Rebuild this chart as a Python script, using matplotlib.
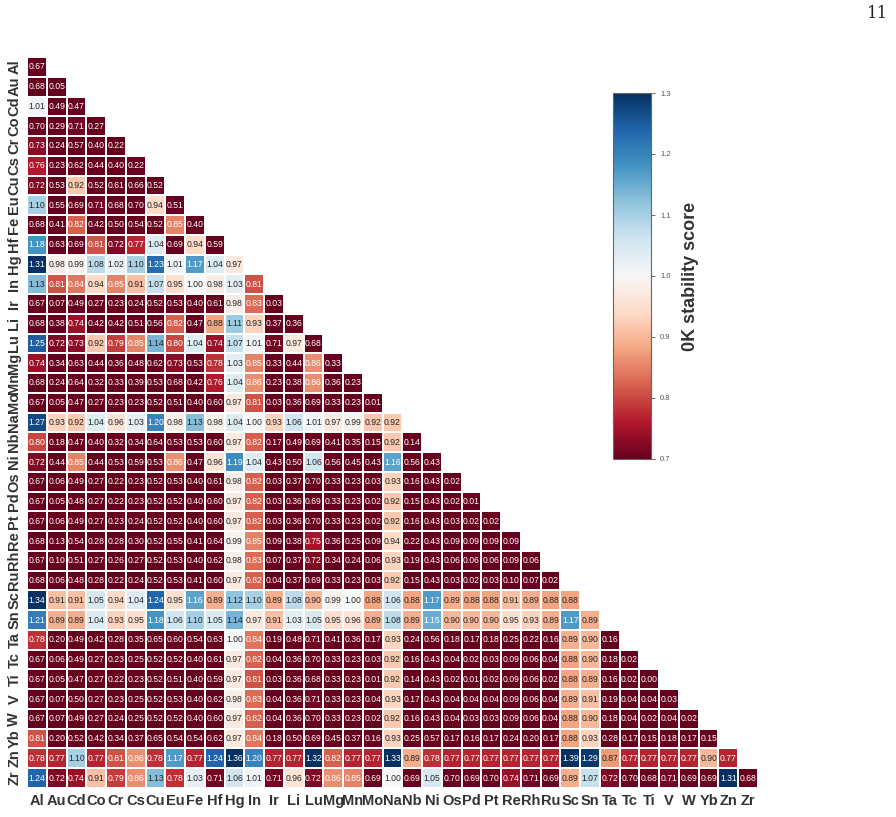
import numpy as np
import matplotlib
matplotlib.use("Agg")
import matplotlib.pyplot as plt
import seaborn as sns

elements = ["Al", "Au", "Cd", "Co", "Cr", "Cs", "Cu", "Eu", "Fe", "Hf", "Hg", "In",
            "Ir", "Li", "Lu", "Mg", "Mn", "Mo", "Na", "Nb", "Ni", "Os", "Pd", "Pt",
            "Re", "Rh", "Ru", "Sc", "Sn", "Ta", "Tc", "Ti", "V", "W", "Yb", "Zn", "Zr"]

# lower-triangle rows (row i has i+1 values, columns Al..element i)
lower_rows = [
    [0.67],
    [0.68, 0.05],
    [1.01, 0.49, 0.47],
    [0.70, 0.29, 0.71, 0.27],
    [0.73, 0.24, 0.57, 0.40, 0.22],
    [0.76, 0.23, 0.62, 0.44, 0.40, 0.22],
    [0.72, 0.53, 0.92, 0.52, 0.61, 0.66, 0.52],
    [1.10, 0.55, 0.69, 0.71, 0.68, 0.70, 0.94, 0.51],
    [0.68, 0.41, 0.82, 0.42, 0.50, 0.54, 0.52, 0.85, 0.40],
    [1.18, 0.63, 0.69, 0.81, 0.72, 0.77, 1.04, 0.69, 0.94, 0.59],
    [1.31, 0.98, 0.99, 1.08, 1.02, 1.10, 1.23, 1.01, 1.17, 1.04, 0.97],
    [1.13, 0.81, 0.84, 0.94, 0.85, 0.91, 1.07, 0.95, 1.00, 0.98, 1.03, 0.81],
    [0.67, 0.07, 0.49, 0.27, 0.23, 0.24, 0.52, 0.53, 0.40, 0.61, 0.98, 0.83, 0.03],
    [0.68, 0.38, 0.74, 0.42, 0.42, 0.51, 0.56, 0.82, 0.47, 0.88, 1.11, 0.93, 0.37, 0.36],
    [1.25, 0.72, 0.73, 0.92, 0.79, 0.85, 1.14, 0.80, 1.04, 0.74, 1.07, 1.01, 0.71, 0.97, 0.68],
    [0.74, 0.34, 0.63, 0.44, 0.36, 0.48, 0.62, 0.73, 0.53, 0.78, 1.03, 0.85, 0.33, 0.44, 0.86, 0.33],
    [0.68, 0.24, 0.64, 0.32, 0.33, 0.39, 0.53, 0.68, 0.42, 0.76, 1.04, 0.86, 0.23, 0.38, 0.86, 0.36, 0.23],
    [0.67, 0.05, 0.47, 0.27, 0.23, 0.23, 0.52, 0.51, 0.40, 0.60, 0.97, 0.81, 0.03, 0.36, 0.69, 0.33, 0.23, 0.01],
    [1.27, 0.93, 0.92, 1.04, 0.96, 1.03, 1.20, 0.98, 1.13, 0.98, 1.04, 1.00, 0.93, 1.06, 1.01, 0.97, 0.99, 0.92, 0.92],
    [0.80, 0.18, 0.47, 0.40, 0.32, 0.34, 0.64, 0.53, 0.53, 0.60, 0.97, 0.82, 0.17, 0.49, 0.69, 0.41, 0.35, 0.15, 0.92, 0.14],
    [0.72, 0.44, 0.85, 0.44, 0.53, 0.59, 0.53, 0.86, 0.47, 0.96, 1.19, 1.04, 0.43, 0.50, 1.06, 0.56, 0.45, 0.43, 1.16, 0.56, 0.43],
    [0.67, 0.06, 0.49, 0.27, 0.22, 0.23, 0.52, 0.53, 0.40, 0.61, 0.98, 0.82, 0.03, 0.37, 0.70, 0.33, 0.23, 0.03, 0.93, 0.16, 0.43, 0.02],
    [0.67, 0.05, 0.48, 0.27, 0.22, 0.23, 0.52, 0.52, 0.40, 0.60, 0.97, 0.82, 0.03, 0.36, 0.69, 0.33, 0.23, 0.02, 0.92, 0.15, 0.43, 0.02, 0.01],
    [0.67, 0.06, 0.49, 0.27, 0.23, 0.24, 0.52, 0.52, 0.40, 0.60, 0.97, 0.82, 0.03, 0.36, 0.70, 0.33, 0.23, 0.02, 0.92, 0.16, 0.43, 0.03, 0.02, 0.02],
    [0.68, 0.13, 0.54, 0.28, 0.28, 0.30, 0.52, 0.55, 0.41, 0.64, 0.99, 0.85, 0.09, 0.38, 0.75, 0.36, 0.25, 0.09, 0.94, 0.22, 0.43, 0.09, 0.09, 0.09, 0.09],
    [0.67, 0.10, 0.51, 0.27, 0.26, 0.27, 0.52, 0.53, 0.40, 0.62, 0.98, 0.83, 0.07, 0.37, 0.72, 0.34, 0.24, 0.06, 0.93, 0.19, 0.43, 0.06, 0.06, 0.06, 0.09, 0.06],
    [0.68, 0.06, 0.48, 0.28, 0.22, 0.24, 0.52, 0.53, 0.41, 0.60, 0.97, 0.82, 0.04, 0.37, 0.69, 0.33, 0.23, 0.03, 0.92, 0.15, 0.43, 0.03, 0.02, 0.03, 0.10, 0.07, 0.02],
    [1.34, 0.91, 0.91, 1.05, 0.94, 1.04, 1.24, 0.95, 1.16, 0.89, 1.12, 1.10, 0.89, 1.08, 0.90, 0.99, 1.00, 0.88, 1.06, 0.88, 1.17, 0.89, 0.88, 0.88, 0.91, 0.89, 0.88, 0.88],
    [1.21, 0.89, 0.89, 1.04, 0.93, 0.95, 1.18, 1.06, 1.10, 1.05, 1.14, 0.97, 0.91, 1.03, 1.05, 0.95, 0.96, 0.89, 1.08, 0.89, 1.15, 0.90, 0.90, 0.90, 0.95, 0.93, 0.89, 1.17, 0.89],
    [0.78, 0.20, 0.49, 0.42, 0.28, 0.35, 0.65, 0.60, 0.54, 0.63, 1.00, 0.84, 0.19, 0.48, 0.71, 0.41, 0.36, 0.17, 0.93, 0.24, 0.56, 0.18, 0.17, 0.18, 0.25, 0.22, 0.16, 0.89, 0.90, 0.16],
    [0.67, 0.06, 0.49, 0.27, 0.23, 0.25, 0.52, 0.52, 0.40, 0.61, 0.97, 0.82, 0.04, 0.36, 0.70, 0.33, 0.23, 0.03, 0.92, 0.16, 0.43, 0.04, 0.02, 0.03, 0.09, 0.06, 0.04, 0.88, 0.90, 0.18, 0.02],
    [0.67, 0.05, 0.47, 0.27, 0.22, 0.23, 0.52, 0.51, 0.40, 0.59, 0.97, 0.81, 0.03, 0.36, 0.68, 0.33, 0.23, 0.01, 0.92, 0.14, 0.43, 0.02, 0.01, 0.02, 0.09, 0.06, 0.02, 0.88, 0.89, 0.16, 0.02, 0.00],
    [0.67, 0.07, 0.50, 0.27, 0.23, 0.25, 0.52, 0.53, 0.40, 0.62, 0.98, 0.83, 0.04, 0.36, 0.71, 0.33, 0.23, 0.04, 0.93, 0.17, 0.43, 0.04, 0.04, 0.04, 0.09, 0.06, 0.04, 0.89, 0.91, 0.19, 0.04, 0.04, 0.03],
    [0.67, 0.07, 0.49, 0.27, 0.24, 0.25, 0.52, 0.52, 0.40, 0.60, 0.97, 0.82, 0.04, 0.36, 0.70, 0.33, 0.23, 0.02, 0.92, 0.16, 0.43, 0.04, 0.03, 0.03, 0.09, 0.06, 0.04, 0.88, 0.90, 0.18, 0.04, 0.02, 0.04, 0.02],
    [0.81, 0.20, 0.52, 0.42, 0.34, 0.37, 0.65, 0.54, 0.54, 0.62, 0.97, 0.84, 0.18, 0.50, 0.69, 0.45, 0.37, 0.16, 0.93, 0.25, 0.57, 0.17, 0.16, 0.17, 0.24, 0.20, 0.17, 0.88, 0.93, 0.28, 0.17, 0.15, 0.18, 0.17, 0.15],
    [0.78, 0.77, 1.10, 0.77, 0.81, 0.86, 0.78, 1.17, 0.77, 1.24, 1.36, 1.20, 0.77, 0.77, 1.32, 0.82, 0.77, 0.77, 1.33, 0.89, 0.78, 0.77, 0.77, 0.77, 0.77, 0.77, 0.77, 1.39, 1.29, 0.87, 0.77, 0.77, 0.77, 0.77, 0.90, 0.77],
    [1.24, 0.72, 0.74, 0.91, 0.79, 0.86, 1.13, 0.78, 1.03, 0.71, 1.06, 1.01, 0.71, 0.96, 0.72, 0.86, 0.85, 0.69, 1.00, 0.69, 1.05, 0.70, 0.69, 0.70, 0.74, 0.71, 0.69, 0.89, 1.07, 0.72, 0.70, 0.68, 0.71, 0.69, 0.69, 1.31, 0.68],
]

cbar_ticks = [0.7, 0.8, 0.9, 1.0, 1.1, 1.2, 1.3]
cbar_label = "0K stability score"
page_number = "11"

n = len(elements)
matrix = np.full((n, n), np.nan)
for i, row in enumerate(lower_rows):
    matrix[i, :len(row)] = row
mask = np.triu(np.ones((n, n), dtype=bool), k=1)

sns.set_theme(style="white")
plt.rcParams['font.family'] = ['Liberation Sans', 'DejaVu Sans']

fig = plt.figure(figsize=(8.96, 8.17), dpi=100)
ax = fig.add_axes([27/896, 1 - 788/817, 731/896, 731/817])
cax = fig.add_axes([613/896, 1 - 459/817, 38/896, 366/817])

sns.heatmap(matrix, mask=mask, cmap="RdBu", vmin=0.7, vmax=1.3, annot=True, fmt=".2f",
            annot_kws={"fontsize": 6.2}, linewidths=1.4, linecolor="white",
            square=False, ax=ax, cbar_ax=cax,
            xticklabels=elements, yticklabels=elements)

ax.set_xticklabels(elements, rotation=0, fontsize=10.5, fontweight="bold", color="#333333")
ax.set_yticklabels(elements, rotation=90, fontsize=10.5, fontweight="bold", color="#333333",
                   va="center")
ax.tick_params(axis="both", length=0, pad=4)

cbar = ax.collections[0].colorbar
cbar.set_ticks(cbar_ticks)
cbar.set_ticklabels([f"{t:.1f}" for t in cbar_ticks])
cax.tick_params(labelsize=5.5, length=3, width=0.6, colors="#555555", labelcolor="#555555")
cbar.outline.set_edgecolor("#666666")
cbar.outline.set_linewidth(0.8)
cbar.set_label(cbar_label, fontsize=13, fontweight="bold", color="#333333", labelpad=8)

fig.text(888/896, 1 - 14/817, page_number, ha="right", va="center",
         fontsize=12, family="DejaVu Serif", color="#222222")

fig.savefig("out.png", dpi=100)
